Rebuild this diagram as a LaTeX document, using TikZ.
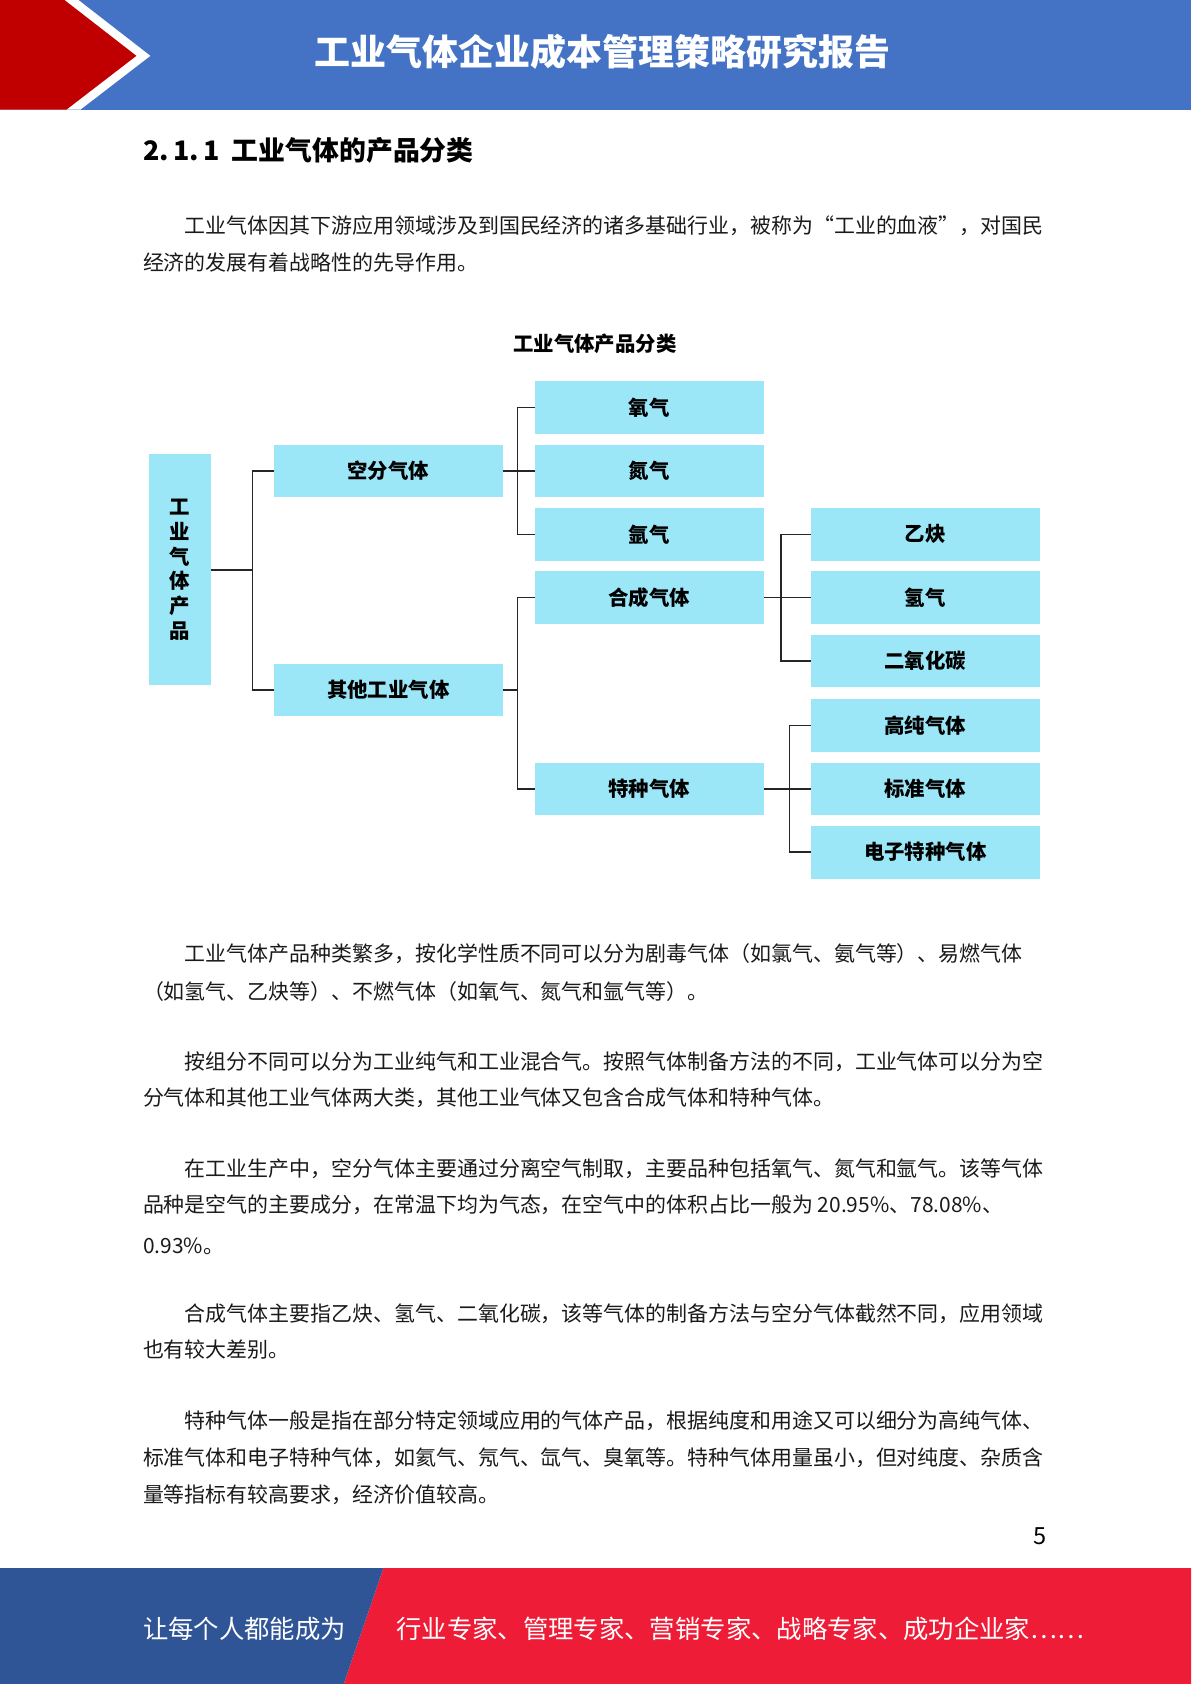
\documentclass[tikz,border=0pt]{standalone}
\usepackage{fontspec}
\setmainfont{Noto Sans CJK SC}
\definecolor{hdrblue}{HTML}{4472C4}
\definecolor{hdrred}{HTML}{C00000}
\definecolor{ftblue}{HTML}{2F5597}
\definecolor{ftred}{HTML}{EE1C37}
\definecolor{boxcyan}{HTML}{9BE6F7}
\definecolor{linegray}{HTML}{262626}
\definecolor{bodytext}{HTML}{1A1A1A}
\tikzset{
  gasbox/.style={fill=boxcyan, draw=none, minimum width=213pt, minimum height=49pt, inner sep=0pt,
    font=\fontsize{19}{22}\selectfont\bfseries, text=black},
  conn/.style={draw=linegray, line width=1.4pt},
  bodyline/.style={anchor=west, inner sep=0pt, font=\fontsize{19.5}{22}\selectfont, text=bodytext},
}
\begin{document}
\begin{tikzpicture}[x=1pt,y=-1pt]
\useasboundingbox (0,0) rectangle (1109,1568);
\fill[white] (0,0) rectangle (1109,1568);
% header
\fill[hdrblue] (0,0) rectangle (1109,102);
\fill[white] (0,0) -- (73,0) -- (140,52) -- (75,102) -- (0,102) -- cycle;
\fill[hdrred] (0,0) -- (60,0) -- (127,52) -- (62,102) -- (0,102) -- cycle;
\node[text=white, font=\fontsize{33.5}{36}\selectfont\bfseries, inner sep=0pt] (title) at (561,48) {工业气体企业成本管理策略研究报告};
% section heading
\node[anchor=west, inner sep=0pt, font=\fontsize{25}{28}\selectfont\bfseries] (sec) at (133,140) {2.\,1.\,1\hspace{0.45em}工业气体的产品分类};
% paragraph 1
\node[bodyline] (p1a) at (172,210) {工业气体因其下游应用领域涉及到国民经济的诸多基础行业，被称为“工业的血液”，对国民};
\node[bodyline] (p1b) at (133,244) {经济的发展有着战略性的先导作用。};
% chart
\node[inner sep=0pt, font=\fontsize{19}{21}\selectfont\bfseries] (ctitle) at (554,320) {工业气体产品分类};
\node[fill=boxcyan, minimum width=57pt, minimum height=215pt, inner sep=0pt, align=center,
  font=\fontsize{19}{23.2}\selectfont\bfseries] (root) at (167.5,530.5) {工\\业\\气\\体\\产\\品};
\node[gasbox] (kf) at (361.5,438.5) {空分气体};
\node[gasbox] (qt) at (361.5,642.5) {其他工业气体};
\node[gasbox] (o2) at (604.5,379.5) {氧气};
\node[gasbox] (n2) at (604.5,438.5) {氮气};
\node[gasbox] (ar) at (604.5,497.5) {氩气};
\node[gasbox] (hc) at (604.5,556.5) {合成气体};
\node[gasbox] (tz) at (604.5,734.5) {特种气体};
\node[gasbox] (yq) at (861.5,497.5) {乙炔};
\node[gasbox] (h2) at (861.5,556.5) {氢气};
\node[gasbox] (co2) at (861.5,615.5) {二氧化碳};
\node[gasbox] (gc) at (861.5,675.5) {高纯气体};
\node[gasbox] (bz) at (861.5,734.5) {标准气体};
\node[gasbox] (dz) at (861.5,793.5) {电子特种气体};
\coordinate (t1) at (235,0);
\coordinate (t2) at (482,0);
\coordinate (t3) at (727,0);
\coordinate (t4) at (735,0);
\draw[conn] (root.east) -- (root.east -| t1);
\draw[conn] (kf.west) -- (kf.west -| t1) -- (qt.west -| t1) -- (qt.west);
\draw[conn] (kf.east) -- (n2.west);
\draw[conn] (o2.west) -- (o2.west -| t2) -- (ar.west -| t2) -- (ar.west);
\draw[conn] (qt.east) -- (qt.east -| t2);
\draw[conn] (hc.west) -- (hc.west -| t2) -- (tz.west -| t2) -- (tz.west);
\draw[conn] (hc.east) -- (h2.west);
\draw[conn] (yq.west) -- (yq.west -| t3) -- (co2.west -| t3) -- (co2.west);
\draw[conn] (tz.east) -- (bz.west);
\draw[conn] (gc.west) -- (gc.west -| t4) -- (dz.west -| t4) -- (dz.west);
% paragraphs
\node[bodyline] (p2a) at (172,888) {工业气体产品种类繁多，按化学性质不同可以分为剧毒气体（如氯气、氨气等）、易燃气体};
\node[bodyline] (p2b) at (133,923) {（如氢气、乙炔等）、不燃气体（如氧气、氮气和氩气等）。};
\node[bodyline] (p3a) at (172,989) {按组分不同可以分为工业纯气和工业混合气。按照气体制备方法的不同，工业气体可以分为空};
\node[bodyline] (p3b) at (133,1022) {分气体和其他工业气体两大类，其他工业气体又包含合成气体和特种气体。};
\node[bodyline] (p4a) at (172,1088) {在工业生产中，空分气体主要通过分离空气制取，主要品种包括氧气、氮气和氩气。该等气体};
\node[bodyline] (p4b) at (133,1122) {品种是空气的主要成分，在常温下均为气态，在空气中的体积占比一般为 20.95\%、78.08\%、};
\node[bodyline] (p4c) at (133,1160) {0.93\%。};
\node[bodyline] (p5a) at (172,1223) {合成气体主要指乙炔、氢气、二氧化碳，该等气体的制备方法与空分气体截然不同，应用领域};
\node[bodyline] (p5b) at (133,1257) {也有较大差别。};
\node[bodyline] (p6a) at (172,1323) {特种气体一般是指在部分特定领域应用的气体产品，根据纯度和用途又可以细分为高纯气体、};
\node[bodyline] (p6b) at (133,1357) {标准气体和电子特种气体，如氦气、氖气、氙气、臭氧等。特种气体用量虽小，但对纯度、杂质含};
\node[bodyline] (p6c) at (133,1392) {量等指标有较高要求，经济价值较高。};
% page number
\node[inner sep=0pt, font=\fontsize{22}{24}\selectfont] (pg) at (968,1430) {5};
% footer
\fill[ftred] (357,1460) -- (1109,1460) -- (1109,1568) -- (320,1568) -- cycle;
\fill[ftblue] (0,1460) -- (357,1460) -- (320,1568) -- (0,1568) -- cycle;
\node[anchor=west, inner sep=0pt, text=white, font=\fontsize{23.6}{26}\selectfont] (ft1) at (133,1517) {让每个人都能成为};
\node[anchor=west, inner sep=0pt, text=white, font=\fontsize{23.6}{26}\selectfont] (ft2) at (369,1517) {行业专家、管理专家、营销专家、战略专家、成功企业家……};
\end{tikzpicture}
\end{document}
